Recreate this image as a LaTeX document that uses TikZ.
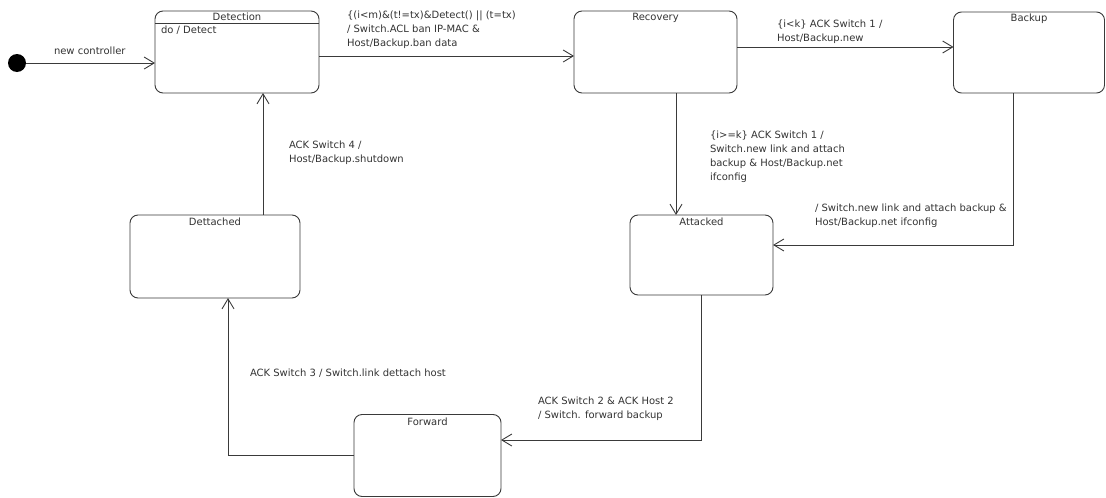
\documentclass[tikz,border=0pt]{standalone}
\usepackage{fontspec}
\setmainfont{DejaVu Sans}
\usetikzlibrary{arrows.meta}
\definecolor{ink}{HTML}{333333}
\definecolor{edge}{HTML}{3A3A3A}
\begin{document}
\begin{tikzpicture}[x=1pt,y=-1pt,
  every node/.style={inner sep=0pt, outer sep=0pt},
  font=\fontsize{10}{14}\selectfont,
  state/.style={draw=edge, line width=0.9pt, rounded corners=8pt, fill=white},
  title/.style={anchor=base, text=ink},
  lbl/.style={anchor=north west, align=left, text=ink},
  trans/.style={draw=edge, line width=0.9pt,
    -{Straight Barb[length=10pt,width=12pt]}}
]
\useasboundingbox (0,0) rectangle (1106,498);

% states
\node[state, minimum width=164, minimum height=82] (det) at (237,52) {};
\node[state, minimum width=163, minimum height=82] (rec) at (655.5,52) {};
\node[state, minimum width=151, minimum height=81] (bak) at (1029,52.5) {};
\node[state, minimum width=170, minimum height=83] (dett) at (215,256.5) {};
\node[state, minimum width=143, minimum height=80] (att) at (701.5,255) {};
\node[state, minimum width=147, minimum height=82] (fwd) at (427.5,455.5) {};

% state titles
\node[title] (tdet) at ([yshift=-9.5]det.north) {Detection};
\node[title] (trec) at ([yshift=-9.5]rec.north) {Recovery};
\node[title] (tbak) at ([yshift=-9.5]bak.north) {Backup};
\node[title] (tdett) at ([yshift=-10.5]dett.north) {Dettached};
\node[title] (tatt) at ([yshift=-10.5]att.north) {Attacked};
\node[title] (tfwd) at ([yshift=-10.5]fwd.north) {Forward};

% internal activity compartment of Detection
\draw[edge, line width=0.9pt] (det.west |- 0,23) -- (det.east |- 0,23);
\node[anchor=base west, text=ink] (ddo) at (161,33.5) {do / Detect};

% initial pseudo-state
\node[circle, fill=black, minimum size=18] (init) at (17,63) {};

% routing helpers
\coordinate (ya) at (0,56);
\coordinate (yb) at (0,47);
\coordinate (yc) at (0,245);
\coordinate (yd) at (0,440);
\coordinate (xa) at (676,0);
\coordinate (xb) at (1013,0);
\coordinate (xc) at (228,0);
\coordinate (xd) at (263,0);

% transitions
\draw[trans] (init) -- (init -| det.west);
\draw[trans] (ya -| det.east) -- (ya -| rec.west);
\draw[trans] (yb -| rec.east) -- (yb -| bak.west);
\draw[trans] (xa |- rec.south) -- (xa |- att.north);
\draw[trans] (xb |- bak.south) |- (yc -| att.east);
\draw[trans] (att.south) |- (yd -| fwd.east);
\draw[trans] (fwd.west) -| (xc |- dett.south);
\draw[trans] (xd |- dett.north) -- (xd |- det.south);

% transition labels
\node[lbl] (l1) at (54,47) {new controller};
\node[lbl] (l2) at (347,11) {\{(i<m)\&(t!=tx)\&Detect() || (t=tx)\\/ Switch.ACL ban IP-MAC \&\\Host/Backup.ban data};
\node[lbl] (l3) at (777,20) {\{i<k\} ACK Switch 1 /\\Host/Backup.new};
\node[lbl] (l4) at (289,141) {ACK Switch 4 /\\Host/Backup.shutdown};
\node[lbl] (l5) at (710,131) {\{i>=k\} ACK Switch 1 /\\Switch.new link and attach\\backup \& Host/Backup.net\\ifconfig};
\node[lbl] (l6) at (815,204) {/ Switch.new link and attach backup \&\\Host/Backup.net ifconfig};
\node[lbl] (l7) at (250,369) {ACK Switch 3 / Switch.link dettach host};
\node[lbl] (l8) at (538,397) {ACK Switch 2 \& ACK Host 2\\/ Switch. forward backup};
\end{tikzpicture}
\end{document}
